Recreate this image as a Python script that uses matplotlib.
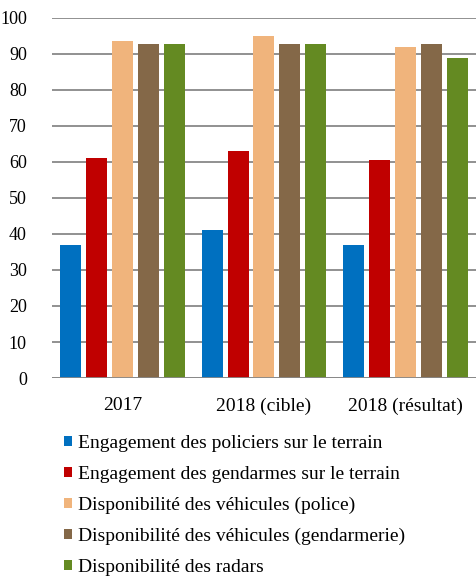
#COMMENT: Imports.

import numpy as np;
import matplotlib as mpl;
import matplotlib.pyplot as plt;
from matplotlib.patches import Patch;

#COMMENT: Chart data.

categories = ["2017", "2018 (cible)", "2018 (résultat)"];

seriesNames = [
    "Engagement des policiers sur le terrain",
    "Engagement des gendarmes sur le terrain",
    "Disponibilité des véhicules (police)",
    "Disponibilité des véhicules (gendarmerie)",
    "Disponibilité des radars",
];

policiers = [37, 41, 37];
gendarmes = [61, 63, 60.5];
vehiculesPolice = [93.5, 95, 92];
vehiculesGendarmerie = [92.7, 92.7, 92.7];
radars = [92.7, 92.7, 89];

seriesValues = [policiers, gendarmes, vehiculesPolice, vehiculesGendarmerie, radars];
seriesColours = ['#0070C0', '#C00000', '#F0B47C', '#846848', '#648A22'];

yTicks = list(range(0, 101, 10));

#COMMENT: Fonts.

mpl.rc('font', **{ 'family' : 'serif', 'size' : 13, 'serif' : ['Liberation Serif', 'DejaVu Serif'] });

#COMMENT: Figure and axes.

fig = plt.figure(figsize = (4.76, 5.78), dpi = 100);
ax = fig.add_axes([0.109, 0.346, 0.891, 0.623]);

x = np.arange(len(categories));
barWidth = 0.148;
barPitch = 0.183;

for i, (values, colour) in enumerate(zip(seriesValues, seriesColours)):
    ax.bar(x + (i - 2) * barPitch, values, width = barWidth, color = colour, zorder = 3);

#COMMENT: Axes styling.

ax.set_xlim(-0.5, len(categories) - 0.5);
ax.set_ylim(0, 100);
ax.set_yticks(yTicks);
ax.set_xticks(x);
ax.set_xticklabels(categories, fontsize = 14);

for spine in ax.spines.values():
    spine.set_visible(False);

ax.yaxis.grid(True, color = '#888888', linewidth = 1.3, zorder = 0);
ax.axhline(0, color = '#888888', linewidth = 1.3, zorder = 4);
ax.tick_params(axis = 'both', length = 0);
ax.tick_params(axis = 'y', pad = 18);
ax.tick_params(axis = 'x', pad = 14);

#COMMENT: Legend below the plot.

handles = [Patch(facecolor = c, edgecolor = 'none') for c in seriesColours];
fig.legend(handles, seriesNames, loc = 'upper left', bbox_to_anchor = (0.135, 0.247),
           frameon = False, fontsize = 14, handlelength = 0.42, handleheight = 0.42,
           handletextpad = 0.3, labelspacing = 0.71, borderpad = 0, borderaxespad = 0);

plt.savefig("out.png", format = 'png', dpi = 100);
plt.close();
